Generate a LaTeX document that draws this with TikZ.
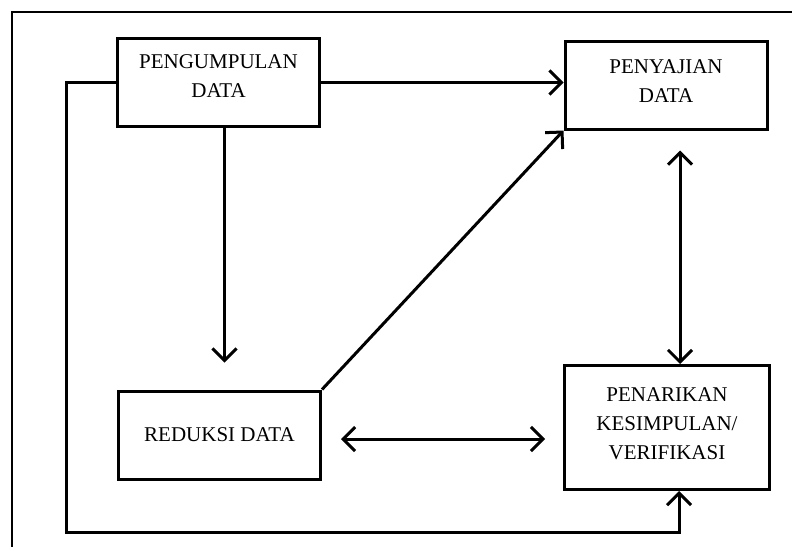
\documentclass[tikz,border=0pt]{standalone}
\usepackage{fontspec}
\setmainfont{Liberation Serif}
\usetikzlibrary{arrows.meta,calc}
\begin{document}
\begin{tikzpicture}[x=1pt,y=-1pt,
  caja/.style={draw,line width=3pt,minimum width=202pt,minimum height=88pt},
  texto/.style={align=center,font=\fontsize{21}{29}\selectfont},
  flecha/.style={line width=3pt,-{Straight Barb[length=12pt,width=24pt]}},
  dflecha/.style={line width=3pt,{Straight Barb[length=12pt,width=24pt]}-{Straight Barb[length=12pt,width=24pt]}}]
\useasboundingbox (0,0) rectangle (792,546);
\clip (0,0) rectangle (792,546);
% Marco
\draw[line width=2pt] (12,560) -- (12,12) -- (800,12);
% Cajas
\node[caja] (pd) at (218.5,82.5) {};
\node[texto] (pdt) at ([yshift=6.5pt]pd.center) {PENGUMPULAN\\DATA};
\node[caja] (pj) at (666,85) {};
\node[texto] (pjt) at ([yshift=4pt]pj.center) {PENYAJIAN\\DATA};
\node[caja] (rd) at (219.5,435) {};
\node[texto] (rdt) at (rd.center) {REDUKSI DATA};
\node[caja,minimum width=205pt,minimum height=124pt] (pk) at (667,427.5) {};
\node[texto] (pkt) at ([yshift=4pt]pk.center) {PENARIKAN\\KESIMPULAN/\\VERIFIKASI};
% Flechas
\coordinate (a) at ([xshift=5pt,yshift=27pt]rd.north);
\coordinate (c) at ([xshift=13pt]pk.north);
\coordinate (d) at ([yshift=-20pt]pj.south -| c);
\coordinate (e) at ([xshift=12pt]pk.south);
\draw[flecha] (pd.east) -- (pd.east -| pj.west);
\draw[flecha] (pd.south -| a) -- (a);
\draw[flecha] (rd.north east) -- (pj.south west);
\draw[dflecha] (d) -- (c);
\draw[dflecha,shorten <=19pt,shorten >=18pt] ([yshift=-4pt]rd.east) -- ([yshift=-4pt]rd.east -| pk.west);
\draw[flecha] (pd.west) -- ++(-50,0) |- ([yshift=-41pt]e) -- (e);
\end{tikzpicture}
\end{document}
